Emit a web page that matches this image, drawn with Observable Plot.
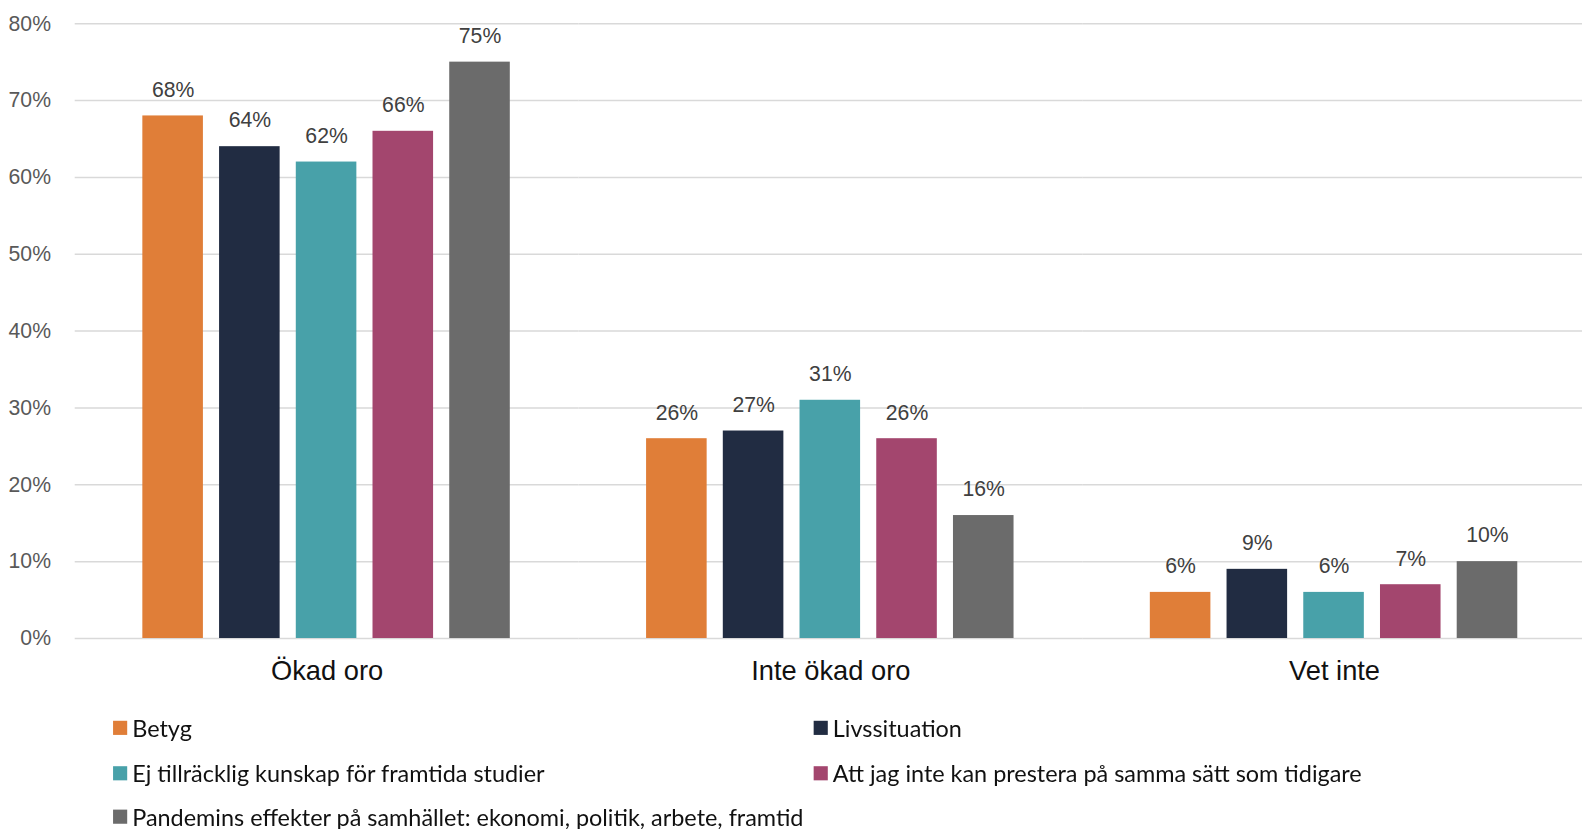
<!DOCTYPE html>
<html>
<head>
<meta charset="utf-8">
<script src="https://cdn.jsdelivr.net/npm/d3@7"></script>
<script src="https://cdn.jsdelivr.net/npm/@observablehq/plot@0.6"></script>
<style>
  html, body { margin: 0; padding: 0; background: #fff; overflow: hidden; }
  #page { width: 1582px; height: 829px; overflow: hidden; transform-origin: 0 0; transform: scale(1.0095); }
  #chart { width: 1582px; height: 690px; }
  #chart svg { max-width: none !important; display: block; }
  .legend { display: grid; grid-template-columns: 694px 700px; grid-template-rows: 45px 45px 41px; padding-left: 112px; padding-top: 8px; height: 131px; font-family: Lato, "Open Sans", sans-serif; font-size: 23.2px; color: #111; }
  .item { display: flex; align-items: center; white-space: nowrap; }
  .sw { width: 14px; height: 14px; margin-right: 5px; flex: none; }
</style>
</head>
<body>
<div id="page">
<div id="chart"></div>
<div class="legend" id="legend"></div>
</div>
<script>
const categories = ["Ökad oro", "Inte ökad oro", "Vet inte"];
const series = [
  "Betyg",
  "Livssituation",
  "Ej tillräcklig kunskap för framtida studier",
  "Att jag inte kan prestera på samma sätt som tidigare",
  "Pandemins effekter på samhället: ekonomi, politik, arbete, framtid"
];
const colors = ["#E07E38", "#212C42", "#48A1A9", "#A3466E", "#6B6B6B"];
const betyg = [68, 26, 6];
const livssituation = [64, 27, 9];
const kunskap = [62, 31, 6];
const prestera = [66, 26, 7];
const pandemin = [75, 16, 10];
const yTicks = [0, 10, 20, 30, 40, 50, 60, 70, 80];

const seriesValues = [betyg, livssituation, kunskap, prestera, pandemin];
const data = [];
categories.forEach((c, i) => series.forEach((s, j) => data.push({cat: c, series: s, value: seriesValues[j][i]})));

const chart = Plot.plot({
  width: 1582,
  height: 690,
  marginLeft: 74,
  marginRight: 11,
  marginTop: 23,
  marginBottom: 58,
  style: {fontFamily: "'Liberation Sans', Arial, sans-serif", fontSize: "21px", color: "#595959", background: "#fff"},
  fx: {domain: categories, padding: 0, label: null},
  x: {domain: series, axis: null, paddingInner: 0.21, paddingOuter: 0.858},
  y: {domain: [0, 80], label: null},
  color: {domain: series, range: colors},
  marks: [
    Plot.gridY(yTicks, {stroke: "#d9d9d9", strokeOpacity: 1, strokeWidth: 1.5}),
    Plot.axisY(yTicks, {tickSize: 0, tickPadding: 24, tickFormat: d => d + "%", label: null, fill: "#595959", fontSize: 21}),
    Plot.axisFx({anchor: "bottom", tickSize: 0, tickPadding: 22, label: null, fontSize: 27, fill: "#111"}),
    Plot.barY(data, {fx: "cat", x: "series", y: "value", fill: "series"}),
    Plot.text(data, {fx: "cat", x: "series", y: "value", text: d => d.value + "%", lineAnchor: "bottom", dy: -19, fontSize: 21, fill: "#404040"})
  ]
});
document.getElementById("chart").appendChild(chart);

const legend = document.getElementById("legend");
series.forEach((s, j) => {
  const it = document.createElement("div");
  it.className = "item";
  const sw = document.createElement("span");
  sw.className = "sw";
  sw.style.background = colors[j];
  const tx = document.createElement("span");
  tx.textContent = s;
  it.appendChild(sw);
  it.appendChild(tx);
  legend.appendChild(it);
});
</script>
</body>
</html>
